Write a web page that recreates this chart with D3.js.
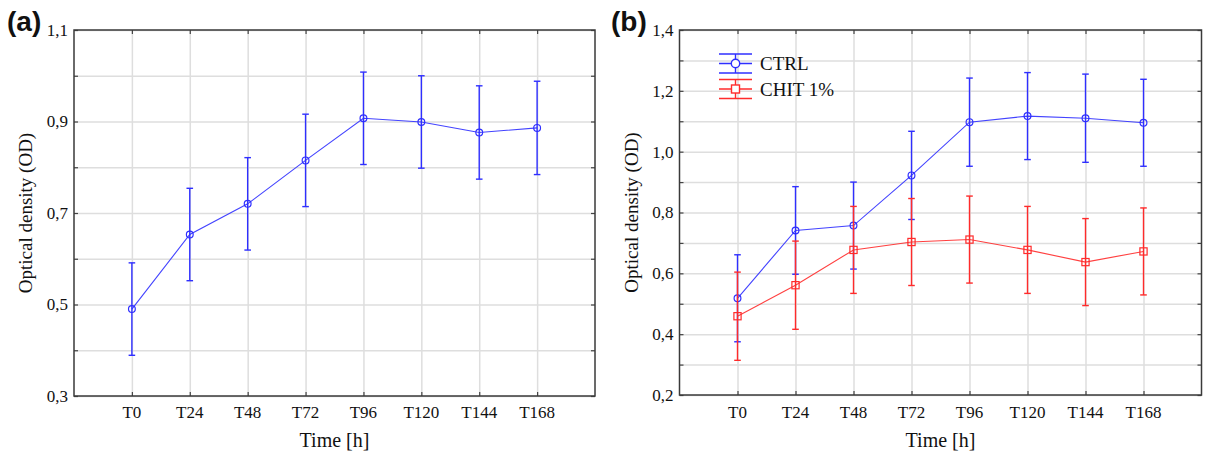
<!DOCTYPE html>
<html>
<head>
<meta charset="utf-8">
<script src="https://cdn.jsdelivr.net/npm/d3@7"></script>
<style>
  body { margin: 0; background: #fff; }
  svg text { font-family: "Liberation Serif", "Times New Roman", serif; fill: #111; }
  .grid line { stroke: #dedede; stroke-width: 1.5; }
  .grid path { display: none; }
  .ticks line { stroke: #444; stroke-width: 1.2; }
  .ticks path { display: none; }
</style>
</head>
<body>
<script>
// time points
var timeLabels = ["T0", "T24", "T48", "T72", "T96", "T120", "T144", "T168"];

// panel (a)
var odMeanA = [0.490, 0.653, 0.720, 0.815, 0.907, 0.899, 0.876, 0.886];
var odErrA  = [0.101, 0.101, 0.101, 0.101, 0.101, 0.101, 0.102, 0.102];
var yGridA  = [0.3, 0.4, 0.5, 0.6, 0.7, 0.8, 0.9, 1.0, 1.1];
var yLabA   = [0.3, 0.5, 0.7, 0.9, 1.1];

// panel (b)
var ctrlMean = [0.518, 0.741, 0.757, 0.922, 1.097, 1.117, 1.110, 1.095];
var ctrlErr  = [0.143, 0.144, 0.143, 0.145, 0.145, 0.143, 0.145, 0.143];
var chitMean = [0.459, 0.561, 0.677, 0.703, 0.711, 0.677, 0.637, 0.672];
var chitErr  = [0.145, 0.145, 0.143, 0.143, 0.143, 0.143, 0.143, 0.143];
var yGridB   = [0.2, 0.3, 0.4, 0.5, 0.6, 0.7, 0.8, 0.9, 1.0, 1.1, 1.2, 1.3, 1.4];
var yLabB    = [0.2, 0.4, 0.6, 0.8, 1.0, 1.2, 1.4];
var seriesNames = ["CTRL", "CHIT 1%"];

var blue = "#2f2fff",
    red = "#ff2b2b";

var width = 1206,
    height = 455;

var svg = d3.select("body").append("svg")
    .attr("width", width)
    .attr("height", height);

var fmt = function (v) { return d3.format(".1f")(v).replace(".", ","); };

function drawPanel(p) {
    var w = p.right - p.left,
        h = p.bottom - p.top;

    var x = d3.scalePoint().domain(timeLabels).range([p.left, p.right]).padding(1);
    var y = d3.scaleLinear().domain(p.yDomain).range([p.bottom, p.top]);

    var g = svg.append("g");

    // grid
    g.append("g").attr("class", "grid")
        .attr("transform", "translate(0," + p.bottom + ")")
        .call(d3.axisBottom(x).tickSize(-h).tickFormat(""));
    g.append("g").attr("class", "grid")
        .attr("transform", "translate(" + p.left + ",0)")
        .call(d3.axisLeft(y).tickValues(p.yGrid).tickSize(-w).tickFormat(""));

    // inward ticks on all four sides
    var tk = 4;
    g.append("g").attr("class", "ticks")
        .attr("transform", "translate(0," + p.bottom + ")")
        .call(d3.axisBottom(x).tickSize(-tk).tickFormat(""));
    g.append("g").attr("class", "ticks")
        .attr("transform", "translate(0," + p.top + ")")
        .call(d3.axisTop(x).tickSize(-tk).tickFormat(""));
    g.append("g").attr("class", "ticks")
        .attr("transform", "translate(" + p.left + ",0)")
        .call(d3.axisLeft(y).tickValues(p.yGrid).tickSize(-tk).tickFormat(""));
    g.append("g").attr("class", "ticks")
        .attr("transform", "translate(" + p.right + ",0)")
        .call(d3.axisRight(y).tickValues(p.yGrid).tickSize(-tk).tickFormat(""));

    g.append("rect")
        .attr("x", p.left).attr("y", p.top)
        .attr("width", w).attr("height", h)
        .attr("fill", "none").attr("stroke", "#3a3a3a").attr("stroke-width", 1.5);

    // tick labels
    g.selectAll(".ylab").data(p.yLab).enter().append("text")
        .attr("x", p.left - 6)
        .attr("y", function (d) { return y(d); })
        .attr("dy", "0.35em")
        .attr("text-anchor", "end")
        .style("font-size", "17px")
        .text(fmt);

    g.selectAll(".xlab").data(timeLabels).enter().append("text")
        .attr("x", function (d) { return x(d); })
        .attr("y", 418)
        .attr("text-anchor", "middle")
        .style("font-size", "17px")
        .text(function (d) { return d; });

    // axis titles
    g.append("text")
        .attr("x", (p.left + p.right) / 2)
        .attr("y", 447)
        .attr("text-anchor", "middle")
        .style("font-size", "20px")
        .text("Time [h]");

    g.append("text")
        .attr("transform", "translate(" + p.yTitleX + "," + (p.top + p.bottom) / 2 + ") rotate(-90)")
        .attr("text-anchor", "middle")
        .attr("dy", "0.35em")
        .style("font-size", "19px")
        .text("Optical density (OD)");

    g.append("text")
        .attr("x", p.tagX)
        .attr("y", 31)
        .style("font-family", "'Liberation Sans', Arial, sans-serif")
        .style("font-weight", "bold")
        .style("font-size", "28px")
        .text(p.tag);

    // series
    p.series.forEach(function (s) {
        var pts = timeLabels.map(function (t, i) { return { t: t, m: s.mean[i], e: s.err[i] }; });
        var sg = g.append("g");

        sg.append("path")
            .datum(pts)
            .attr("fill", "none")
            .attr("stroke", s.color)
            .attr("stroke-width", 1.1)
            .attr("opacity", 0.9)
            .attr("d", d3.line().x(function (d) { return x(d.t); }).y(function (d) { return y(d.m); }));

        var eb = sg.selectAll(".eb").data(pts).enter().append("g")
            .attr("stroke", s.color).attr("stroke-width", 1.4).attr("fill", "none");
        eb.append("line")
            .attr("x1", function (d) { return x(d.t); }).attr("x2", function (d) { return x(d.t); })
            .attr("y1", function (d) { return y(d.m - d.e); }).attr("y2", function (d) { return y(d.m + d.e); });
        [-1, 1].forEach(function (sign) {
            eb.append("line")
                .attr("x1", function (d) { return x(d.t) - 3.3; }).attr("x2", function (d) { return x(d.t) + 3.3; })
                .attr("y1", function (d) { return y(d.m + sign * d.e); }).attr("y2", function (d) { return y(d.m + sign * d.e); });
        });

        if (s.marker === "circle") {
            sg.selectAll(".mk").data(pts).enter().append("circle")
                .attr("cx", function (d) { return x(d.t); })
                .attr("cy", function (d) { return y(d.m); })
                .attr("r", 3.4)
                .attr("fill", "none").attr("stroke", s.color).attr("stroke-width", 1.2);
        } else {
            sg.selectAll(".mk").data(pts).enter().append("rect")
                .attr("x", function (d) { return x(d.t) - 3.6; })
                .attr("y", function (d) { return y(d.m) - 3.6; })
                .attr("width", 7.2).attr("height", 7.2)
                .attr("fill", "none").attr("stroke", s.color).attr("stroke-width", 1.2);
        }
    });

    // legend
    if (p.legend) {
        p.series.forEach(function (s, i) {
            var cy = 63.5 + i * 25.5,
                x0 = 719, x1 = 752, xc = (x0 + x1) / 2;
            var lg = g.append("g").attr("stroke", s.color).attr("stroke-width", 1.4).attr("fill", "none");
            lg.append("line").attr("x1", x0).attr("x2", x1).attr("y1", cy).attr("y2", cy);
            lg.append("line").attr("x1", x0).attr("x2", x1).attr("y1", cy - 9.5).attr("y2", cy - 9.5);
            lg.append("line").attr("x1", x0).attr("x2", x1).attr("y1", cy + 9.5).attr("y2", cy + 9.5);
            lg.append("line").attr("x1", xc).attr("x2", xc).attr("y1", cy - 9.5).attr("y2", cy + 9.5);
            if (s.marker === "circle") {
                lg.append("circle").attr("cx", xc).attr("cy", cy).attr("r", 4.2).attr("fill", "#fff");
            } else {
                lg.append("rect").attr("x", xc - 4).attr("y", cy - 4).attr("width", 8).attr("height", 8).attr("fill", "#fff");
            }
            g.append("text")
                .attr("x", 760)
                .attr("y", cy + 6.5)
                .style("font-size", "19px")
                .text(s.name);
        });
    }
}

drawPanel({
    left: 74, right: 595, top: 30, bottom: 396,
    yDomain: [0.3, 1.1], yGrid: yGridA, yLab: yLabA,
    yTitleX: 25, tag: "(a)", tagX: 7,
    series: [{ name: "", mean: odMeanA, err: odErrA, color: blue, marker: "circle" }],
    legend: false
});

drawPanel({
    left: 679.5, right: 1201.5, top: 30, bottom: 395,
    yDomain: [0.2, 1.4], yGrid: yGridB, yLab: yLabB,
    yTitleX: 631, tag: "(b)", tagX: 611,
    series: [
        { name: seriesNames[0], mean: ctrlMean, err: ctrlErr, color: blue, marker: "circle" },
        { name: seriesNames[1], mean: chitMean, err: chitErr, color: red, marker: "square" }
    ],
    legend: true
});
</script>
</body>
</html>
